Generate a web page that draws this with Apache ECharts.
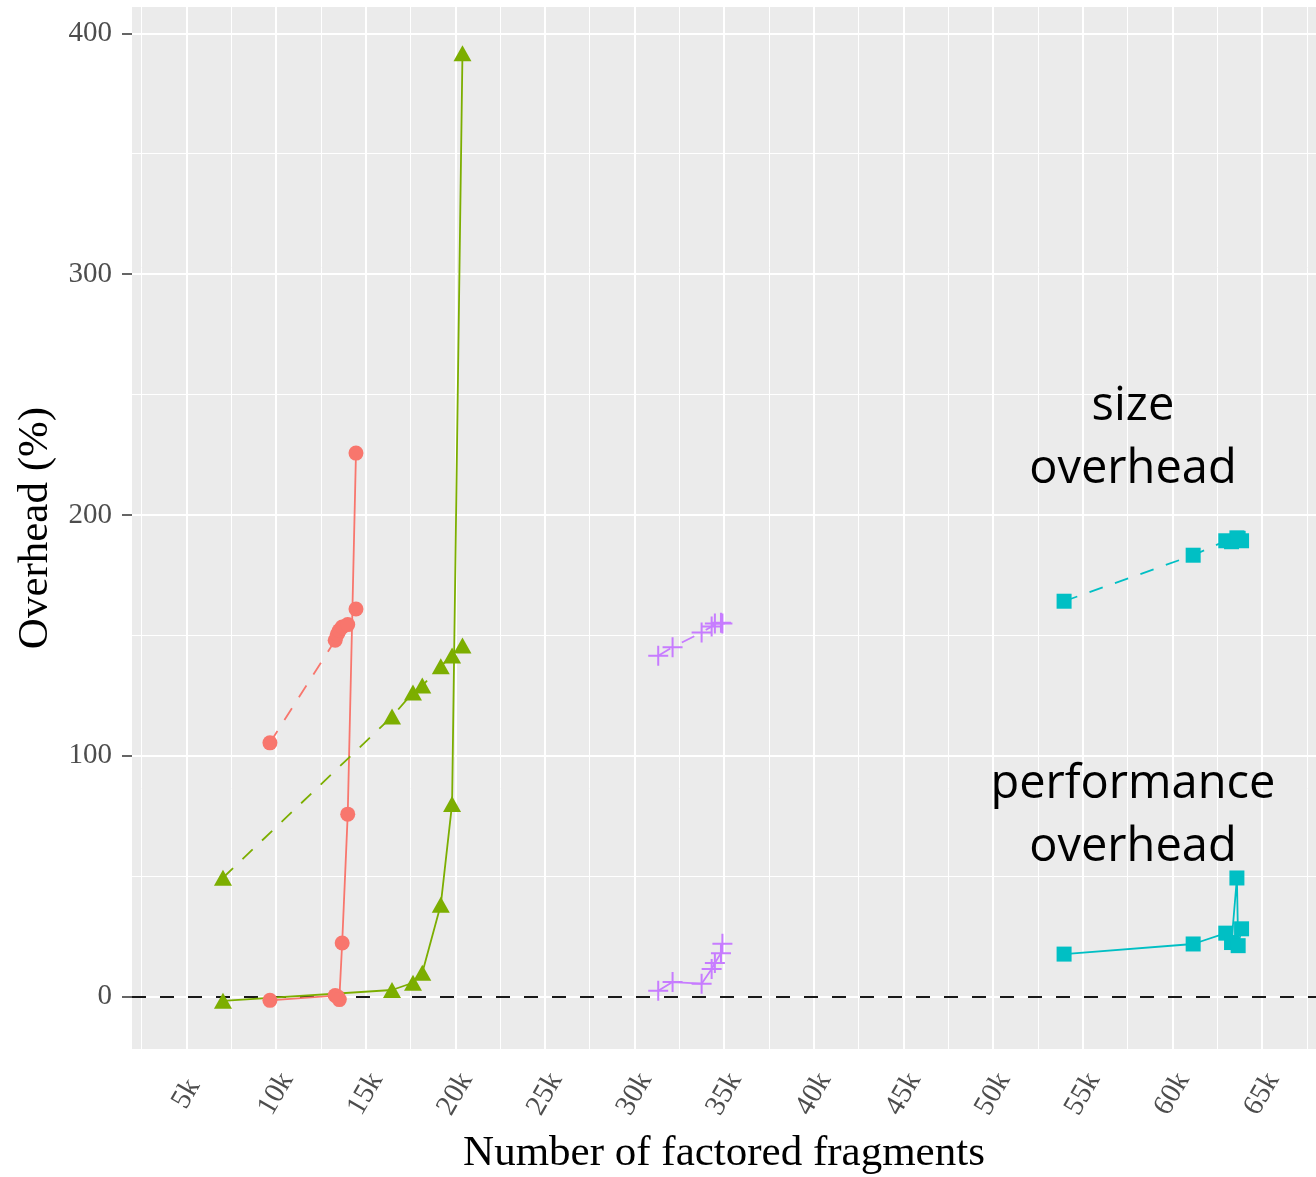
<!DOCTYPE html>
<html><head><meta charset="utf-8">
<script src="https://cdn.jsdelivr.net/npm/echarts@6/dist/echarts.min.js"></script>
<style>html,body{margin:0;padding:0;background:#fff}#c{width:1316px;height:1177px}</style>
</head><body><div id="c"></div>
<script>
// ---- axis ticks / grid ----
const xTicks = [5000,10000,15000,20000,25000,30000,35000,40000,45000,50000,55000,60000,65000];
const xMinor = [2500,7500,12500,17500,22500,27500,32500,37500,42500,47500,52500,57500,62500,67500];
const yTicks = [0,100,200,300,400];
const yMinor = [50,150,250,350];

// ---- data (x = number of factored fragments, y = overhead %) ----
const redX = [9660,13300,13420,13530,13690,14000,14460];
const redPerf = [-1.5,0.5,0.1,-1.2,22.3,75.8,225.7];
const redSize = [105.4,148,150.5,152,153.5,154.5,161];

const greenX = [7040,16470,17640,18160,19190,19820,20400];
const greenPerf = [-1.7,2.8,5.8,10,38.2,80,391.7];
const greenSize = [49.4,116.3,126.3,129.2,137.2,141.7,145.8];

const purpleX = [31320,32120,33740,34300,34480,34820,34900];
const purplePerf = [2.5,6.1,5.4,11.5,14,18.1,22];
const purpleSize = [141.6,145.1,151.2,153.7,155,155.3,155];

const cyanX = [53960,61160,62980,63300,63600,63670,63860];
const cyanPerf = [17.7,21.9,26.4,22.5,49.3,21.2,28.2];
const cyanSize = [164.2,183.3,189.3,188.9,190.5,190.3,189.3];

const annotations = [
  {x: 57800, y: 232, text: 'size\noverhead'},
  {x: 57800, y: 74.8, text: 'performance\noverhead'}
];

const zip = (xs, ys) => xs.map((x, i) => [x, ys[i]]);
const PLUS = 'path://M0,-10L0,10M-10,0L10,0';

function dataSeries(xs, ys, color, symbol, size, dashed, isPlus) {
  return {
    type: 'line', z: 5, data: zip(xs, ys), symbol: symbol, symbolSize: size,
    showSymbol: true, animation: false, silent: true,
    lineStyle: {color: color, width: 1.8, type: dashed ? [14, 13] : 'solid'},
    itemStyle: isPlus ? {color: 'rgba(0,0,0,0)', borderColor: color, borderWidth: 2} : {color: color, borderWidth: 0}
  };
}

const serif = 'Liberation Serif';
const chart = echarts.init(document.getElementById('c'), null, {renderer: 'canvas'});
const option = {
  backgroundColor: '#ffffff',
  animation: false,
  grid: {left: 132, right: 0, top: 7, bottom: 128, show: true, backgroundColor: '#EBEBEB', borderWidth: 0,
    containLabel: false, outerBoundsMode: 'none'},
  xAxis: {
    type: 'value', min: 1966, max: 68012,
    name: 'Number of factored fragments', nameLocation: 'middle', nameGap: 83,
    nameTextStyle: {fontFamily: serif, fontSize: 43, color: '#000'},
    axisLine: {show: false},
    axisTick: {show: true, customValues: xTicks, length: 10, lineStyle: {color: '#333', width: 1.5}},
    axisLabel: {customValues: xTicks, rotate: 60, align: 'center', verticalAlign: 'middle', margin: 45,
      fontFamily: serif, fontSize: 29, color: '#4D4D4D', formatter: v => (v / 1000) + 'k'},
    splitLine: {show: false}
  },
  yAxis: {
    type: 'value', min: -21.7, max: 410.9,
    name: 'Overhead (%)', nameLocation: 'middle', nameGap: 71, nameRotate: 90,
    nameTextStyle: {fontFamily: serif, fontSize: 43, color: '#000'},
    axisLine: {show: false},
    axisTick: {show: true, customValues: yTicks, length: 10, lineStyle: {color: '#333', width: 1.5}},
    axisLabel: {customValues: yTicks, margin: 20, fontFamily: serif, fontSize: 29, color: '#4D4D4D'},
    splitLine: {show: false}
  },
  series: [
    {type: 'line', data: [], z: 1, silent: true,
      markLine: {silent: true, symbol: 'none', animation: false, label: {show: false},
        lineStyle: {color: '#ffffff', width: 1, type: 'solid'},
        data: xMinor.map(v => ({xAxis: v})).concat(yMinor.map(v => ({yAxis: v})))}},
    {type: 'line', data: [], z: 2, silent: true,
      markLine: {silent: true, symbol: 'none', animation: false, label: {show: false},
        lineStyle: {color: '#ffffff', width: 2, type: 'solid'},
        data: xTicks.map(v => ({xAxis: v})).concat(yTicks.map(v => ({yAxis: v})))}},
    dataSeries(redX, redSize, '#F8766D', 'circle', 15, true),
    dataSeries(redX, redPerf, '#F8766D', 'circle', 15, false),
    dataSeries(greenX, greenSize, '#7CAE00', 'triangle', [18, 16], true),
    dataSeries(greenX, greenPerf, '#7CAE00', 'triangle', [18, 16], false),
    dataSeries(purpleX, purpleSize, '#C77CFF', PLUS, 20, true, true),
    dataSeries(purpleX, purplePerf, '#C77CFF', PLUS, 20, false, true),
    dataSeries(cyanX, cyanSize, '#00BFC4', 'rect', 15, true),
    dataSeries(cyanX, cyanPerf, '#00BFC4', 'rect', 15, false),
    {type: 'line', data: [], z: 6, silent: true,
      markLine: {silent: true, symbol: 'none', animation: false, label: {show: false},
        lineStyle: {color: '#000000', width: 1.8, type: [14, 14]},
        data: [{yAxis: 0}]}},
    {type: 'scatter', z: 7, silent: true, symbolSize: 1, itemStyle: {color: 'rgba(0,0,0,0)'},
      data: annotations.map(a => ({value: [a.x, a.y], label: {formatter: a.text}})),
      label: {show: true, position: 'inside', align: 'center', verticalAlign: 'middle',
        fontFamily: 'Open Sans', fontSize: 47, lineHeight: 63, color: '#000', opacity: 1}}
  ]
};
chart.setOption(option);
</script>
</body></html>
